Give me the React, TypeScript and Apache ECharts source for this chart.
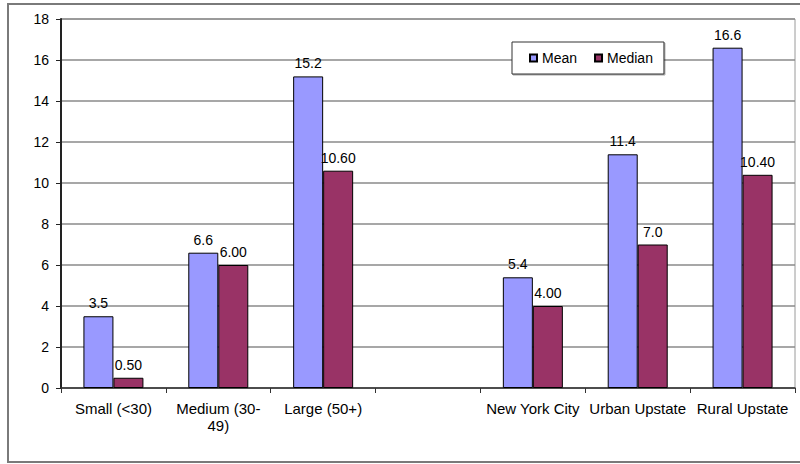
import React, { useEffect, useRef } from "react";
import * as echarts from "echarts";

// Facility-size groups, a blank spacer slot, then regions
const categories = [
  "Small (<30)",
  "Medium (30-\n49)",
  "Large (50+)",
  "",
  "New York City",
  "Urban Upstate",
  "Rural Upstate",
];
const meanValues: (number | null)[] = [3.5, 6.6, 15.2, null, 5.4, 11.4, 16.6];
const medianValues: (number | null)[] = [0.5, 6.0, 10.6, null, 4.0, 7.0, 10.4];
// Printed labels keep their own decimals
const meanLabels = ["3.5", "6.6", "15.2", "", "5.4", "11.4", "16.6"];
const medianLabels = ["0.50", "6.00", "10.60", "", "4.00", "7.0", "10.40"];

const FONT = "'Liberation Sans', Arial, sans-serif";

export default function App() {
  const ref = useRef<HTMLDivElement>(null);

  useEffect(() => {
    if (!ref.current) return;
    const chart = echarts.init(ref.current, null, { renderer: "svg" });

    const labelStyle = {
      show: true,
      position: "top" as const,
      distance: 6,
      fontFamily: FONT,
      fontSize: 14,
      color: "#000",
    };

    chart.setOption({
      animation: false,
      backgroundColor: "#fff",
      textStyle: { fontFamily: FONT },
      graphic: [
        {
          type: "rect",
          shape: { x: 8, y: 4, width: 800, height: 458 },
          style: { fill: "none", stroke: "#7a7a7a", lineWidth: 2 },
          silent: true,
          z: -1,
        },
      ],
      grid: {
        left: 61,
        right: 5,
        top: 19,
        bottom: 76,
        show: true,
        borderColor: "#9a9a9a",
        borderWidth: 1,
      },
      legend: {
        left: 512,
        top: 42,
        padding: [9, 11, 9, 17],
        itemGap: 17,
        itemWidth: 7,
        itemHeight: 7,
        backgroundColor: "#fff",
        borderColor: "#333",
        borderWidth: 1,
        shadowColor: "rgba(0,0,0,0.35)",
        shadowOffsetX: 1,
        shadowOffsetY: 1,
        textStyle: { fontFamily: FONT, fontSize: 14, color: "#000" },
        icon: "rect",
        data: ["Mean", "Median"],
      },
      xAxis: {
        type: "category",
        data: categories,
        axisLine: { lineStyle: { color: "#333", width: 1.5 } },
        axisTick: { show: true, length: 5, lineStyle: { color: "#333" } },
        axisLabel: {
          color: "#000",
          fontFamily: FONT,
          fontSize: 15,
          margin: 12,
          interval: 0,
          lineHeight: 17,
        },
      },
      yAxis: {
        type: "value",
        min: 0,
        max: 18,
        interval: 2,
        axisLine: { show: true, lineStyle: { color: "#222", width: 2 } },
        axisTick: { show: true, length: 5, lineStyle: { color: "#222" } },
        axisLabel: {
          color: "#000",
          fontFamily: FONT,
          fontSize: 14,
          margin: 12,
        },
        splitLine: { lineStyle: { color: "#8a8a8a", width: 1.5 } },
      },
      series: [
        {
          name: "Mean",
          type: "bar",
          data: meanValues,
          barWidth: 30,
          barGap: "0%",
          itemStyle: { color: "#9999FF", borderColor: "#000", borderWidth: 1 },
          label: {
            ...labelStyle,
            formatter: (p: any) => meanLabels[p.dataIndex],
          },
        },
        {
          name: "Median",
          type: "bar",
          data: medianValues,
          barWidth: 30,
          barGap: "0%",
          itemStyle: { color: "#993366", borderColor: "#000", borderWidth: 1 },
          label: {
            ...labelStyle,
            formatter: (p: any) => medianLabels[p.dataIndex],
          },
        },
      ],
    });

    return () => chart.dispose();
  }, []);

  return (
    <div
      ref={ref}
      style={{ position: "absolute", left: 0, top: 0, width: 800, height: 464 }}
    />
  );
}
